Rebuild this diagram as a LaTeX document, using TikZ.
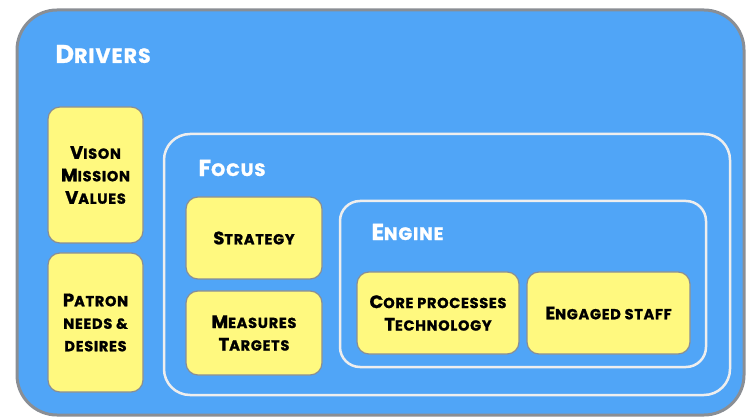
\documentclass[tikz,border=0pt]{standalone}
\usepackage{fontspec}
\setmainfont{Poppins}[BoldFeatures={FakeBold=1.3},LetterSpace=5]
\definecolor{skyblue}{HTML}{50A5F7}
\definecolor{framegray}{HTML}{8A8E94}
\definecolor{notepad}{HTML}{FFF97F}
\definecolor{chalk}{HTML}{EEEEEE}
\newcommand\capinit[1]{{\fontsize{18}{22}\selectfont #1}}
\tikzset{
  note/.style={draw=framegray,line width=1.2pt,fill=notepad,rounded corners=12pt,
    align=center,text=black,font=\bfseries\fontsize{14.5}{22.5}\selectfont,inner sep=0pt},
  heading/.style={anchor=west,text=white,font=\bfseries\fontsize{19}{22}\selectfont}
}
\begin{document}
\begin{tikzpicture}[x=1pt,y=-1pt]
\useasboundingbox (0,0) rectangle (746,419);

\draw[framegray,line width=3pt,fill=skyblue,rounded corners=40pt] (17,10) rectangle (744,415);
\draw[chalk,line width=2.5pt,rounded corners=26pt] (164,134) rectangle (730,395);
\draw[chalk,line width=2.5pt,rounded corners=20pt] (340,201) rectangle (706,367);

\node[heading] (drivers) at (52,54) {\fontsize{25.5}{26}\selectfont D\fontsize{20.5}{22}\selectfont RIVERS};
\node[heading] (focus) at (195,168) {\fontsize{23}{24}\selectfont F\fontsize{18}{22}\selectfont OCUS};
\node[heading] (engine) at (368,232) {\fontsize{23}{24}\selectfont E\fontsize{18}{22}\selectfont NGINE};

\node[note,minimum width=95pt,minimum height=136pt] (vision) at (95.5,175) {\capinit{V}ISON\\\capinit{M}ISSION\\\capinit{V}ALUES};
\node[note,minimum width=95pt,minimum height=139pt] (patron) at (95.5,322.5) {\capinit{P}ATRON\\NEEDS \&\\DESIRES};
\node[note,minimum width=136pt,minimum height=82pt] (strategy) at (254,238) {\capinit{S}TRATEGY};
\node[note,minimum width=136pt,minimum height=84pt] (measures) at (254,333) {\capinit{M}EASURES\\\capinit{T}ARGETS};
\node[note,minimum width=162pt,minimum height=82pt] (core) at (438,313) {\capinit{C}ORE PROCESSES\\\capinit{T}ECHNOLOGY};
\node[note,minimum width=163pt,minimum height=82pt] (staff) at (608.5,313) {\capinit{E}NGAGED STAFF};
\end{tikzpicture}
\end{document}
